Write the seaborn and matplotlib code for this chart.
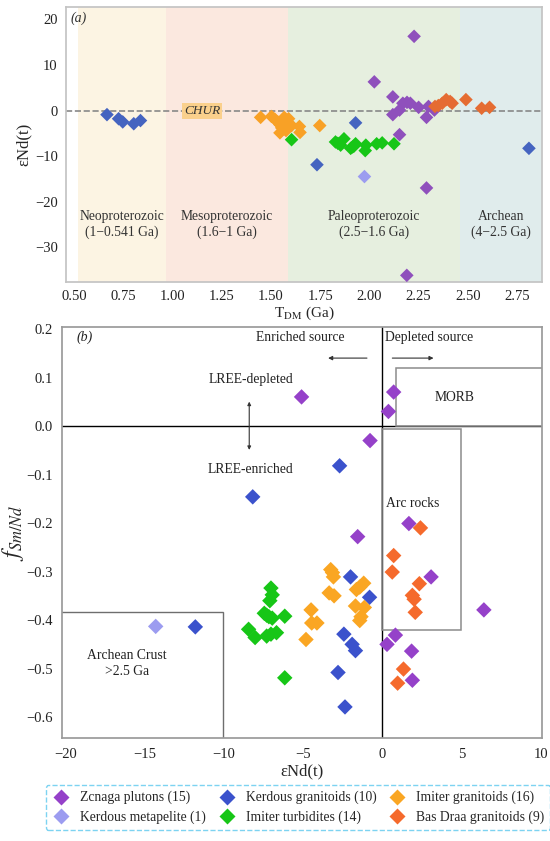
import matplotlib
matplotlib.use("Agg")
import matplotlib.pyplot as plt
from matplotlib.patches import Rectangle
import numpy as np
import pandas as pd
import seaborn as sns

# ---- panel (a): T_DM (Ga) vs eNd(t)
zen_t = [2.227, 2.025, 2.119, 2.119, 2.153, 2.17, 2.191, 2.208, 2.25, 2.30, 2.33, 2.29, 2.153, 2.29, 2.19]
zen_e = [16.3, 6.3, 3.0, -0.9, 0.1, 1.6, 1.8, 1.6, 0.7, 0.9, 0.1, -1.5, -5.3, -17.0, -36.2]
kgr_t = [0.668, 0.727, 0.748, 0.804, 0.838, 1.93, 1.734, 2.81]
kgr_e = [-0.9, -1.8, -2.5, -2.9, -2.2, -2.7, -11.9, -8.3]
kmp_t = [1.975]
kmp_e = [-14.5]
itu_t = [1.605, 1.828, 1.854, 1.871, 1.905, 1.93, 1.922, 1.982, 1.979, 2.037, 2.065, 2.125, 1.84, 1.915]
itu_e = [-6.4, -6.9, -7.6, -6.2, -8.3, -7.3, -7.8, -7.6, -8.8, -7.3, -7.1, -7.3, -7.2, -8.0]
igr_t = [1.448, 1.503, 1.52, 1.568, 1.577, 1.546, 1.555, 1.546, 1.577, 1.605, 1.645, 1.648, 1.748, 1.535, 1.565, 1.59]
igr_e = [-1.5, -1.3, -1.9, -1.5, -2.2, -3.1, -3.8, -4.9, -4.4, -3.3, -3.5, -4.8, -3.3, -2.5, -4.0, -1.8]
bdr_t = [2.333, 2.35, 2.37, 2.39, 2.41, 2.42, 2.49, 2.57, 2.61]
bdr_e = [0.9, 1.1, 1.6, 2.4, 2.0, 1.6, 2.4, 0.5, 0.7]

# ---- panel (b): eNd(t) vs fSm/Nd
zen_x = [-5.1, 0.71, 0.38, -0.78, -1.56, 1.67, 3.07, 6.4, 0.29, 0.82, 1.84, 1.89]
zen_f = [0.060, 0.070, 0.030, -0.030, -0.228, -0.201, -0.311, -0.379, -0.45, -0.431, -0.464, -0.524]
kgr_x = [-2.7, -8.18, -11.8, -2.01, -0.81, -2.43, -1.91, -1.7, -2.8, -2.36]
kgr_f = [-0.082, -0.146, -0.414, -0.311, -0.353, -0.429, -0.45, -0.463, -0.508, -0.579]
kmp_x = [-14.3]
kmp_f = [-0.413]
itu_x = [-7.03, -6.95, -7.1, -7.45, -7.16, -6.95, -6.16, -8.44, -8.03, -7.3, -7.03, -6.68, -6.16, -7.3]
itu_f = [-0.334, -0.348, -0.36, -0.386, -0.393, -0.396, -0.392, -0.419, -0.436, -0.433, -0.429, -0.426, -0.519, -0.39]
igr_x = [-3.26, -3.09, -3.36, -3.05, -4.5, -4.46, -4.13, -4.82, -1.18, -1.43, -1.64, -1.7, -1.14, -1.35, -1.43, -3.15]
igr_f = [-0.296, -0.311, -0.344, -0.35, -0.379, -0.406, -0.406, -0.44, -0.324, -0.332, -0.337, -0.371, -0.374, -0.393, -0.401, -0.302]
bdr_x = [0.71, 0.62, 2.4, 2.33, 1.89, 2.0, 2.07, 1.33, 0.96]
bdr_f = [-0.267, -0.301, -0.21, -0.325, -0.349, -0.357, -0.384, -0.501, -0.53]

groups = ["Zcnaga plutons (15)", "Kerdous metapelite (1)", "Kerdous granitoids (10)",
          "Imiter turbidites (14)", "Imiter granitoids (16)", "Bas Draa granitoids (9)"]
colors = ["#9541C9", "#9C9CF0", "#3B52CC", "#17C617", "#FAA623", "#F56A2C"]
colors_a = ["#8F50BC", "#9C9CF0", "#4564C0", "#17C617", "#F8A126", "#E56C32"]

eras = ["Neoproterozoic\n(1\u22120.541 Ga)", "Mesoproterozoic\n(1.6\u22121 Ga)",
        "Paleoproterozoic\n(2.5\u22121.6 Ga)", "Archean\n(4\u22122.5 Ga)"]
era_edges = [0.52, 0.97, 1.585, 2.46, 2.875]
era_colors = ["#FCF4E3", "#FBE8DF", "#E6EFDF", "#E0ECEC"]

dfa = pd.concat([
    pd.DataFrame({"t": t, "e": e, "group": g})
    for t, e, g in zip([zen_t, kmp_t, kgr_t, itu_t, igr_t, bdr_t],
                       [zen_e, kmp_e, kgr_e, itu_e, igr_e, bdr_e], groups)
], ignore_index=True)
dfb = pd.concat([
    pd.DataFrame({"e": x, "f": f, "group": g})
    for x, f, g in zip([zen_x, kmp_x, kgr_x, itu_x, igr_x, bdr_x],
                       [zen_f, kmp_f, kgr_f, itu_f, igr_f, bdr_f], groups)
], ignore_index=True)

sns.set_theme(style="white")
plt.rcParams["font.family"] = ["Liberation Serif", "DejaVu Serif"]
plt.rcParams["mathtext.fontset"] = "stix"

fig = plt.figure(figsize=(5.5, 8.41), dpi=100)
ax1 = fig.add_axes([0.12, 0.665, 0.865, 0.327])
ax2 = fig.add_axes([0.113, 0.1225, 0.872, 0.4892])

tc = "#222222"
fs = 9.8

# ---------- panel a
for i in range(4):
    ax1.axvspan(era_edges[i], era_edges[i + 1], color=era_colors[i], lw=0, zorder=0)
    ax1.text((era_edges[i] + era_edges[i + 1]) / 2, -25, eras[i], ha="center", va="center",
             fontsize=fs, color="#333333", linespacing=1.3)
ax1.axhline(0, color="#888888", ls="--", lw=1.2, zorder=1)
sns.scatterplot(data=dfa, x="t", y="e", hue="group", hue_order=groups, palette=colors_a,
                marker="D", s=48, edgecolor="none", legend=False, ax=ax1, zorder=3)
ax1.text(1.151, 0, "CHUR", style="italic", fontsize=9.5, color="#333333", ha="center", va="center",
         bbox=dict(boxstyle="square,pad=0.15", fc="#FAD08C", ec="none"), zorder=2)
ax1.text(0.485, 20.3, "(a)", style="italic", fontsize=10, color="#333333", ha="left", va="center")
ax1.set_xlim(0.46, 2.875)
ax1.set_ylim(-37.6, 22.8)
ax1.set_xticks([0.5, 0.75, 1.0, 1.25, 1.5, 1.75, 2.0, 2.25, 2.5, 2.75])
ax1.set_yticks([-30, -20, -10, 0, 10, 20])
ax1.set_xlabel(r"T$_{\rm DM}$ (Ga)", fontsize=11, labelpad=1)
ax1.set_ylabel("\u03b5Nd(t)", fontsize=12, labelpad=2)
ax1.tick_params(labelsize=10.5, length=0, pad=6, colors=tc)
for sp in ax1.spines.values():
    sp.set_color("#C4C4C4")

# ---------- panel b
ax2.axvline(0, color="black", lw=1, zorder=1)
ax2.axhline(0, color="black", lw=1, zorder=1)
ax2.add_patch(Rectangle((0.85, 0), 9.5, 0.12, fill=False, ec="#8C8C8C", lw=1.1, zorder=1))
ax2.add_patch(Rectangle((0, -0.42), 4.95, 0.413, fill=False, ec="#8C8C8C", lw=1.1, zorder=1))
ax2.add_patch(Rectangle((-21, -0.7), 10.95, 0.317, fill=False, ec="#6E6E6E", lw=1.0, zorder=1))
sns.scatterplot(data=dfb, x="e", y="f", hue="group", hue_order=groups, palette=colors,
                marker="D", s=62, edgecolor="none", ax=ax2, zorder=3)
handles, labels = ax2.get_legend_handles_labels()
ax2.get_legend().remove()

ax2.text(-19.3, 0.175, "(b)", style="italic", fontsize=10, color=tc)
ax2.text(-5.2, 0.182, "Enriched source", fontsize=fs, ha="center", va="center", color=tc)
ax2.text(2.95, 0.182, "Depleted source", fontsize=fs, ha="center", va="center", color=tc)
ax2.annotate("", xy=(-3.6, 0.14), xytext=(-0.8, 0.14),
             arrowprops=dict(arrowstyle="-|>", color="#333333", lw=0.8, mutation_scale=6))
ax2.annotate("", xy=(3.4, 0.14), xytext=(0.45, 0.14),
             arrowprops=dict(arrowstyle="-|>", color="#333333", lw=0.8, mutation_scale=6))
ax2.text(-8.3, 0.095, "LREE-depleted", fontsize=fs, ha="center", va="center", color=tc)
ax2.text(-8.3, -0.089, "LREE-enriched", fontsize=fs, ha="center", va="center", color=tc)
ax2.annotate("", xy=(-8.4, 0.056), xytext=(-8.4, -0.055),
             arrowprops=dict(arrowstyle="<|-|>", color="#333333", lw=0.8, mutation_scale=5))
ax2.text(4.55, 0.058, "MORB", fontsize=fs, ha="center", va="center", color=tc)
ax2.text(1.9, -0.16, "Arc rocks", fontsize=fs, ha="center", va="center", color=tc)
ax2.text(-16.1, -0.49, "Archean Crust\n>2.5 Ga", fontsize=fs, ha="center", va="center",
         color=tc, linespacing=1.3)

ax2.set_xlim(-20.2, 10.05)
ax2.set_ylim(-0.643, 0.205)
ax2.set_xticks([-20, -15, -10, -5, 0, 5, 10])
ax2.set_yticks([-0.6, -0.5, -0.4, -0.3, -0.2, -0.1, 0.0, 0.1, 0.2])
ax2.set_yticklabels(["\u22120.6", "\u22120.5", "\u22120.4", "\u22120.3", "\u22120.2", "\u22120.1",
                     "0.0", "0.1", "0.2"])
ax2.set_xlabel("\u03b5Nd(t)", fontsize=12, labelpad=2)
ax2.set_ylabel(r"$f_{Sm/Nd}$", fontsize=17, labelpad=0)
ax2.tick_params(labelsize=10.5, length=0, pad=7, colors=tc)
for sp in ax2.spines.values():
    sp.set_color("#9A9A9A")

leg = fig.legend(handles, labels, ncol=3, loc="center", bbox_to_anchor=(0.542, 0.0398),
                 fontsize=9.8, frameon=True, fancybox=True, handletextpad=0.7,
                 columnspacing=0.8, labelspacing=0.45, borderpad=0.45, markerscale=1.0,
                 handlelength=1.4)
fr = leg.get_frame()
fr.set_edgecolor("#5CC8EE")
fr.set_linestyle("--")
fr.set_linewidth(1.0)

fig.savefig("out.png", dpi=100)
